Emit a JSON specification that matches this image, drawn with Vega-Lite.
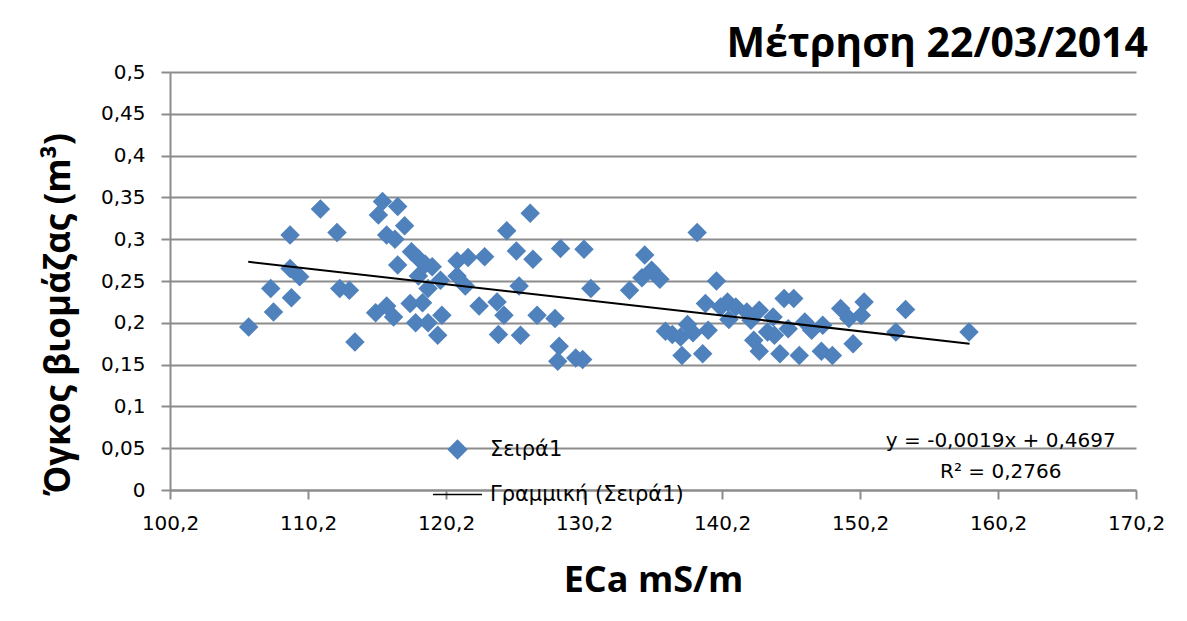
{
  "$schema": "https://vega.github.io/schema/vega-lite/v6.json",
  "width": 966,
  "height": 418,
  "autosize": "none",
  "padding": {"left": 170, "top": 72, "right": 51, "bottom": 131},
  "background": "white",
  "config": {
    "locale": {"number": {"decimal": ",", "thousands": ".", "grouping": [3], "currency": ["", " €"]}},
    "view": {"stroke": null},
    "font": "DejaVu Sans"
  },
  "title": {
    "text": "Μέτρηση 22/03/2014",
    "anchor": "end",
    "frame": "group",
    "font": "Open Sans",
    "fontWeight": "bold",
    "fontSize": 41,
    "color": "black",
    "offset": -4,
    "dx": 12
  },
  "datasets": {
    "points": [
      {"ECa": 105.9, "volume": 0.195, "series": "Σειρά1"},
      {"ECa": 107.5, "volume": 0.241, "series": "Σειρά1"},
      {"ECa": 107.7, "volume": 0.213, "series": "Σειρά1"},
      {"ECa": 108.9, "volume": 0.305, "series": "Σειρά1"},
      {"ECa": 108.9, "volume": 0.265, "series": "Σειρά1"},
      {"ECa": 109.0, "volume": 0.230, "series": "Σειρά1"},
      {"ECa": 109.6, "volume": 0.255, "series": "Σειρά1"},
      {"ECa": 111.1, "volume": 0.336, "series": "Σειρά1"},
      {"ECa": 112.3, "volume": 0.308, "series": "Σειρά1"},
      {"ECa": 112.5, "volume": 0.241, "series": "Σειρά1"},
      {"ECa": 113.2, "volume": 0.239, "series": "Σειρά1"},
      {"ECa": 113.6, "volume": 0.177, "series": "Σειρά1"},
      {"ECa": 115.1, "volume": 0.212, "series": "Σειρά1"},
      {"ECa": 115.3, "volume": 0.329, "series": "Σειρά1"},
      {"ECa": 115.6, "volume": 0.345, "series": "Σειρά1"},
      {"ECa": 115.9, "volume": 0.305, "series": "Σειρά1"},
      {"ECa": 115.9, "volume": 0.220, "series": "Σειρά1"},
      {"ECa": 116.4, "volume": 0.207, "series": "Σειρά1"},
      {"ECa": 116.5, "volume": 0.300, "series": "Σειρά1"},
      {"ECa": 116.7, "volume": 0.339, "series": "Σειρά1"},
      {"ECa": 116.7, "volume": 0.269, "series": "Σειρά1"},
      {"ECa": 117.2, "volume": 0.316, "series": "Σειρά1"},
      {"ECa": 117.6, "volume": 0.223, "series": "Σειρά1"},
      {"ECa": 117.7, "volume": 0.285, "series": "Σειρά1"},
      {"ECa": 118.0, "volume": 0.200, "series": "Σειρά1"},
      {"ECa": 118.2, "volume": 0.277, "series": "Σειρά1"},
      {"ECa": 118.2, "volume": 0.256, "series": "Σειρά1"},
      {"ECa": 118.5, "volume": 0.224, "series": "Σειρά1"},
      {"ECa": 118.7, "volume": 0.270, "series": "Σειρά1"},
      {"ECa": 118.9, "volume": 0.241, "series": "Σειρά1"},
      {"ECa": 118.9, "volume": 0.200, "series": "Σειρά1"},
      {"ECa": 119.2, "volume": 0.267, "series": "Σειρά1"},
      {"ECa": 119.6, "volume": 0.185, "series": "Σειρά1"},
      {"ECa": 119.8, "volume": 0.251, "series": "Σειρά1"},
      {"ECa": 119.9, "volume": 0.209, "series": "Σειρά1"},
      {"ECa": 121.0, "volume": 0.274, "series": "Σειρά1"},
      {"ECa": 121.0, "volume": 0.256, "series": "Σειρά1"},
      {"ECa": 121.6, "volume": 0.244, "series": "Σειρά1"},
      {"ECa": 121.8, "volume": 0.278, "series": "Σειρά1"},
      {"ECa": 123.0, "volume": 0.279, "series": "Σειρά1"},
      {"ECa": 122.6, "volume": 0.220, "series": "Σειρά1"},
      {"ECa": 123.9, "volume": 0.225, "series": "Σειρά1"},
      {"ECa": 124.0, "volume": 0.186, "series": "Σειρά1"},
      {"ECa": 124.4, "volume": 0.209, "series": "Σειρά1"},
      {"ECa": 124.6, "volume": 0.310, "series": "Σειρά1"},
      {"ECa": 125.3, "volume": 0.286, "series": "Σειρά1"},
      {"ECa": 125.5, "volume": 0.244, "series": "Σειρά1"},
      {"ECa": 125.6, "volume": 0.185, "series": "Σειρά1"},
      {"ECa": 126.3, "volume": 0.331, "series": "Σειρά1"},
      {"ECa": 126.5, "volume": 0.276, "series": "Σειρά1"},
      {"ECa": 126.8, "volume": 0.209, "series": "Σειρά1"},
      {"ECa": 128.1, "volume": 0.205, "series": "Σειρά1"},
      {"ECa": 128.5, "volume": 0.289, "series": "Σειρά1"},
      {"ECa": 128.4, "volume": 0.172, "series": "Σειρά1"},
      {"ECa": 128.3, "volume": 0.154, "series": "Σειρά1"},
      {"ECa": 129.6, "volume": 0.158, "series": "Σειρά1"},
      {"ECa": 130.1, "volume": 0.156, "series": "Σειρά1"},
      {"ECa": 130.2, "volume": 0.288, "series": "Σειρά1"},
      {"ECa": 130.7, "volume": 0.241, "series": "Σειρά1"},
      {"ECa": 133.5, "volume": 0.239, "series": "Σειρά1"},
      {"ECa": 134.4, "volume": 0.254, "series": "Σειρά1"},
      {"ECa": 134.6, "volume": 0.281, "series": "Σειρά1"},
      {"ECa": 135.1, "volume": 0.263, "series": "Σειρά1"},
      {"ECa": 135.7, "volume": 0.252, "series": "Σειρά1"},
      {"ECa": 136.1, "volume": 0.190, "series": "Σειρά1"},
      {"ECa": 136.6, "volume": 0.186, "series": "Σειρά1"},
      {"ECa": 137.2, "volume": 0.183, "series": "Σειρά1"},
      {"ECa": 137.3, "volume": 0.161, "series": "Σειρά1"},
      {"ECa": 137.7, "volume": 0.198, "series": "Σειρά1"},
      {"ECa": 138.1, "volume": 0.188, "series": "Σειρά1"},
      {"ECa": 138.4, "volume": 0.308, "series": "Σειρά1"},
      {"ECa": 138.8, "volume": 0.163, "series": "Σειρά1"},
      {"ECa": 139.0, "volume": 0.223, "series": "Σειρά1"},
      {"ECa": 139.2, "volume": 0.191, "series": "Σειρά1"},
      {"ECa": 139.8, "volume": 0.250, "series": "Σειρά1"},
      {"ECa": 140.1, "volume": 0.219, "series": "Σειρά1"},
      {"ECa": 140.6, "volume": 0.225, "series": "Σειρά1"},
      {"ECa": 140.7, "volume": 0.204, "series": "Σειρά1"},
      {"ECa": 141.2, "volume": 0.219, "series": "Σειρά1"},
      {"ECa": 142.0, "volume": 0.213, "series": "Σειρά1"},
      {"ECa": 142.3, "volume": 0.203, "series": "Σειρά1"},
      {"ECa": 142.5, "volume": 0.179, "series": "Σειρά1"},
      {"ECa": 142.9, "volume": 0.215, "series": "Σειρά1"},
      {"ECa": 142.9, "volume": 0.166, "series": "Σειρά1"},
      {"ECa": 143.5, "volume": 0.189, "series": "Σειρά1"},
      {"ECa": 143.9, "volume": 0.207, "series": "Σειρά1"},
      {"ECa": 144.0, "volume": 0.185, "series": "Σειρά1"},
      {"ECa": 144.4, "volume": 0.163, "series": "Σειρά1"},
      {"ECa": 144.7, "volume": 0.229, "series": "Σειρά1"},
      {"ECa": 145.0, "volume": 0.193, "series": "Σειρά1"},
      {"ECa": 145.4, "volume": 0.229, "series": "Σειρά1"},
      {"ECa": 145.8, "volume": 0.161, "series": "Σειρά1"},
      {"ECa": 146.2, "volume": 0.201, "series": "Σειρά1"},
      {"ECa": 146.7, "volume": 0.191, "series": "Σειρά1"},
      {"ECa": 147.4, "volume": 0.166, "series": "Σειρά1"},
      {"ECa": 147.5, "volume": 0.197, "series": "Σειρά1"},
      {"ECa": 148.2, "volume": 0.161, "series": "Σειρά1"},
      {"ECa": 148.8, "volume": 0.217, "series": "Σειρά1"},
      {"ECa": 149.4, "volume": 0.205, "series": "Σειρά1"},
      {"ECa": 149.7, "volume": 0.175, "series": "Σειρά1"},
      {"ECa": 150.3, "volume": 0.209, "series": "Σειρά1"},
      {"ECa": 150.5, "volume": 0.225, "series": "Σειρά1"},
      {"ECa": 152.8, "volume": 0.189, "series": "Σειρά1"},
      {"ECa": 153.5, "volume": 0.216, "series": "Σειρά1"},
      {"ECa": 158.1, "volume": 0.189, "series": "Σειρά1"}
    ],
    "trend": [
      {"ECa": 105.87, "volume": 0.273, "series": "Γραμμική (Σειρά1)"},
      {"ECa": 158.14, "volume": 0.175, "series": "Γραμμική (Σειρά1)"}
    ],
    "notes": [
      {"label": "y = -0,0019x + 0,4697"}
    ],
    "notes2": [
      {"label": "R² = 0,2766"}
    ]
  },
  "layer": [
    {
      "data": {"name": "points"},
      "mark": {"type": "point", "filled": true, "size": 380, "opacity": 1},
      "encoding": {
        "x": {
          "field": "ECa",
          "type": "quantitative",
          "scale": {"domain": [100.2, 170.2], "nice": false, "zero": false},
          "axis": {
            "title": "ECa mS/m",
            "values": [100.2, 110.2, 120.2, 130.2, 140.2, 150.2, 160.2, 170.2],
            "format": ".1f",
            "grid": false,
            "domainColor": "#8c8c8c",
            "domainWidth": 2,
            "tickColor": "#8c8c8c",
            "tickWidth": 2,
            "tickSize": 9,
            "labelFont": "DejaVu Sans",
            "labelFontSize": 20,
            "labelColor": "black",
            "labelPadding": 14,
            "labelFlush": false,
            "labelOverlap": false,
            "titleFont": "Open Sans",
            "titleFontWeight": "bold",
            "titleFontSize": 36,
            "titleColor": "black",
            "titleBaseline": "alphabetic",
            "titleY": 101
          }
        },
        "y": {
          "field": "volume",
          "type": "quantitative",
          "scale": {"domain": [0, 0.5], "nice": false},
          "axis": {
            "title": "Όγκος βιομάζας (m³)",
            "values": [0, 0.05, 0.1, 0.15, 0.2, 0.25, 0.3, 0.35, 0.4, 0.45, 0.5],
            "format": ".2~f",
            "grid": true,
            "gridColor": "#8c8c8c",
            "gridWidth": 2,
            "domainColor": "#8c8c8c",
            "domainWidth": 2,
            "tickColor": "#8c8c8c",
            "tickWidth": 2,
            "tickSize": 9,
            "labelFont": "DejaVu Sans",
            "labelFontSize": 20,
            "labelColor": "black",
            "labelPadding": 16,
            "labelFlush": false,
            "labelOverlap": false,
            "titleFont": "Open Sans",
            "titleFontWeight": "bold",
            "titleFontSize": 35,
            "titleColor": "black",
            "titleAngle": -90,
            "titleBaseline": "middle",
            "titleAlign": "center",
            "titleX": -112,
            "titleY": 242
          }
        },
        "color": {
          "field": "series",
          "type": "nominal",
          "scale": {"domain": ["Σειρά1", "Γραμμική (Σειρά1)"], "range": ["#4F81BD", "#000000"]},
          "legend": {
            "orient": "none",
            "legendX": 277,
            "legendY": 367,
            "title": null,
            "labelFont": "DejaVu Sans",
            "labelFontSize": 21,
            "labelColor": "black",
            "labelLimit": 400,
            "labelOffset": 22,
            "rowPadding": 21,
            "symbolSize": 330,
            "encode": {
              "symbols": {
                "update": {
                  "strokeWidth": {"signal": "datum.value === 'Σειρά1' ? 0 : 2"},
                  "stroke": {"signal": "datum.value === 'Σειρά1' ? '#4F81BD' : '#000000'"},
                  "fill": {"signal": "datum.value === 'Σειρά1' ? '#4F81BD' : 'transparent'"},
                  "opacity": {"value": 1}
                }
              }
            }
          }
        },
        "shape": {
          "field": "series",
          "type": "nominal",
          "scale": {"domain": ["Σειρά1", "Γραμμική (Σειρά1)"], "range": ["diamond", "M-2.7,0L2.7,0"]},
          "legend": {
            "orient": "none",
            "legendX": 277,
            "legendY": 367,
            "title": null
          }
        }
      }
    },
    {
      "data": {"name": "trend"},
      "mark": {"type": "line", "strokeWidth": 2},
      "encoding": {
        "x": {"field": "ECa", "type": "quantitative"},
        "y": {"field": "volume", "type": "quantitative"},
        "color": {"field": "series", "type": "nominal"}
      }
    },
    {
      "data": {"name": "notes"},
      "mark": {"type": "text", "font": "DejaVu Sans", "fontSize": 20, "align": "center", "baseline": "alphabetic", "color": "black"},
      "encoding": {
        "x": {"datum": 160.4, "type": "quantitative"},
        "y": {"datum": 0.0514, "type": "quantitative"},
        "text": {"field": "label", "type": "nominal"}
      }
    },
    {
      "data": {"name": "notes2"},
      "mark": {"type": "text", "font": "DejaVu Sans", "fontSize": 20, "align": "center", "baseline": "alphabetic", "color": "black"},
      "encoding": {
        "x": {"datum": 160.4, "type": "quantitative"},
        "y": {"datum": 0.0144, "type": "quantitative"},
        "text": {"field": "label", "type": "nominal"}
      }
    }
  ]
}
